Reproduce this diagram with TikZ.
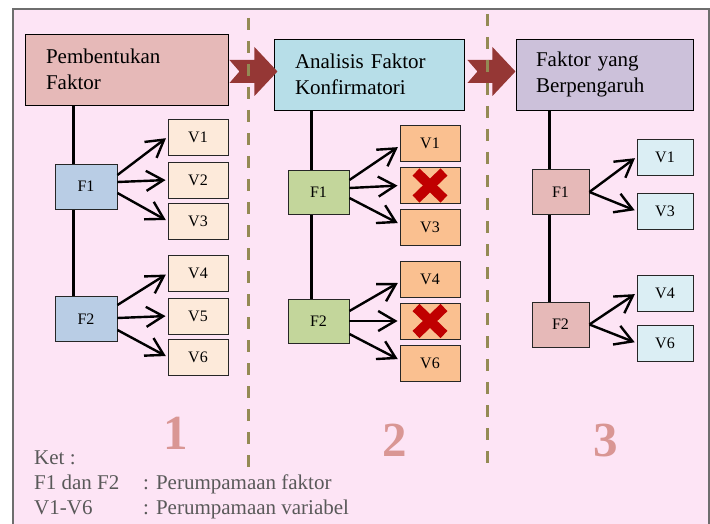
\documentclass[tikz,border=0pt]{standalone}
\usepackage{fontspec}
\setmainfont{Liberation Serif}
\usetikzlibrary{arrows.meta, backgrounds}

\definecolor{pagepink}{HTML}{FDE4F5}
\definecolor{framegray}{HTML}{6E6E6E}
\definecolor{rosebox}{HTML}{E6B9B8}
\definecolor{aquabox}{HTML}{B7DEE8}
\definecolor{lilacbox}{HTML}{CCC1DA}
\definecolor{bluef}{HTML}{B9CDE5}
\definecolor{peachv}{HTML}{FDEADA}
\definecolor{greenf}{HTML}{C3D69B}
\definecolor{orangev}{HTML}{FAC090}
\definecolor{icev}{HTML}{DBEEF4}
\definecolor{arrowred}{HTML}{953735}
\definecolor{olivedash}{HTML}{948A54}
\definecolor{numred}{HTML}{D99694}
\definecolor{crossred}{HTML}{C00000}
\definecolor{leggray}{HTML}{595959}

\tikzset{
  titlebox/.style={
  rectangle,
  draw=black,
  line width=0.9pt,
  fill=#1,
  inner xsep=0pt,
  align=left,
  minimum height=71pt,
  font=\fontsize{21}{25.5}\selectfont
  },
faktor/.style={
  rectangle,
  draw=black!85,
  line width=0.9pt,
  fill=#1,
  inner sep=0pt,
  minimum width=62pt,
  minimum height=45pt,
  font=\fontsize{16}{18}\selectfont
},
varbox/.style={
  rectangle,
  draw=black!85,
  line width=0.9pt,
  fill=#1,
  inner sep=0pt,
  minimum width=60pt,
  minimum height=36pt,
  font=\fontsize{16}{18}\selectfont
},
link/.style={
  line width=2.4pt,
  -{Straight Barb[length=17pt, width=20pt]},
  shorten >=2pt
},
trunk/.style={
  line width=3pt
},
divider/.style={
  olivedash,
  line width=3pt,
  dash pattern=on 12pt off 11pt
},
cross/.style={
  crossred,
  line width=10pt
},
stage/.style={
  numred,
  anchor=base,
  font=\fontsize{49}{50}\selectfont\bfseries
},
legend/.style={
  leggray,
  anchor=base west,
  inner sep=0pt,
  font=\fontsize{21}{25}\selectfont
},
pics/notcharrow/.style={
  code={\fill[arrowred] (0,11.5) -- (25,11.5) -- (25,24.5) -- (48,0) -- (25,-24.5) -- (25,-11.5) -- (0,-11.5) -- (10,0) -- cycle;}
}
        }

\begin{document}
\begin{tikzpicture}[x=1pt, y=-1pt]
\useasboundingbox (0,0) rectangle (710,524);

% Title boxes
\node (title1) [titlebox=rosebox, text width=161pt, minimum width=203pt] at (126.5,69.5) {Pembentukan\\Faktor};
\node (title2) [titlebox=aquabox, text width=148pt, minimum width=190pt] at (369,74.5) {Analisis Faktor\\Konfirmatori};
\node (title3) [titlebox=lilacbox, text width=137pt, minimum width=177pt] at (604.5,74.5) {Faktor yang\\Berpengaruh};

% Block arrows
\pic at ([shift={(1,2)}]title1.east) {notcharrow};
\pic at ([shift={(3,-3)}]title2.east) {notcharrow};

% Dividers
\draw [divider] (248,18) -- (248,473);
\draw [divider] (487,14) -- (487,469);

% Stage 1
\node (fa1) [faktor=bluef] at (86,186.5) {F1};
\node (fa2) [faktor=bluef] at (86,319) {F2};
\node (va1) [varbox=peachv] at (198,137) {V1};
\node (va2) [varbox=peachv] at (198,180) {V2};
\node (va3) [varbox=peachv] at (198,221) {V3};
\node (va4) [varbox=peachv] at (198,273.5) {V4};
\node (va5) [varbox=peachv] at (198,316) {V5};
\node (va6) [varbox=peachv] at (198,357) {V6};

% Stage 2
\node (fb1) [faktor=greenf, minimum width=61pt, minimum height=44pt] at (318.5,192) {F1};
\node (fb2) [faktor=greenf, minimum width=61pt, minimum height=44pt] at (318.5,321) {F2};
\node (vb1) [varbox=orangev] at (430,143) {V1};
\node (xb1) [varbox=orangev] at (430,185.5) {};
\node (vb3) [varbox=orangev] at (430,227) {V3};
\node (vb4) [varbox=orangev] at (430,279) {V4};
\node (xb2) [varbox=orangev] at (430,321) {};
\node (vb6) [varbox=orangev] at (430,363) {V6};

% Stage 3
\node (fc1) [faktor=rosebox, minimum width=57pt] at (560.5,192) {F1};
\node (fc2) [faktor=rosebox, minimum width=57pt] at (560.5,324.5) {F2};
\node (vc1) [varbox=icev, minimum width=56pt] at (665,157) {V1};
\node (vc3) [varbox=icev, minimum width=56pt] at (665,211) {V3};
\node (vc4) [varbox=icev, minimum width=56pt] at (665,293) {V4};
\node (vc6) [varbox=icev, minimum width=56pt] at (665,343) {V6};

% Arrows
\draw [link] ([yshift=11.5pt]fa1.east) -- (va1.west);
\draw [link] ([yshift=4.5pt]fa1.east) -- (va2.west);
\draw [link] ([yshift=-6.5pt]fa1.east) -- (va3.west);
\draw [link] ([yshift=14pt]fa2.east) -- (va4.west);
\draw [link] ([yshift=1pt]fa2.east) -- (va5.west);
\draw [link] ([yshift=-11pt]fa2.east) -- (va6.west);

\draw [link] ([yshift=12pt]fb1.east) -- ([yshift=-3pt]vb1.west);
\draw [link] ([yshift=4pt]fb1.east) -- (xb1.west);
\draw [link] ([yshift=-6pt]fb1.east) -- ([yshift=3pt]vb3.west);
\draw [link] ([yshift=10pt]fb2.east) -- ([yshift=-3pt]vb4.west);
\draw [link] (fb2.east) -- (xb2.west);
\draw [link] ([yshift=-13pt]fb2.east) -- ([yshift=3pt]vb6.west);

\draw [link] (fc1.east) -- (vc1.west);
\draw [link] (fc1.east) -- (vc3.west);
\draw [link] (fc2.east) -- (vc4.west);
\draw [link] (fc2.east) -- (vc6.west);

% Crosses
\draw [cross] ([shift={(-14,-13.5)}]xb1.center) -- ([shift={(14,13.5)}]xb1.center);
\draw [cross] ([shift={(-14,13.5)}]xb1.center) -- ([shift={(14,-13.5)}]xb1.center);
\draw [cross] ([shift={(-14,-13.5)}]xb2.center) -- ([shift={(14,13.5)}]xb2.center);
\draw [cross] ([shift={(-14,13.5)}]xb2.center) -- ([shift={(14,-13.5)}]xb2.center);

% Stage numbers
\node (num1) [stage] at (175.5,449.5) {1};
\node (num2) [stage] at (395,456) {2};
\node (num3) [stage] at (605.5,456) {3};

% Legend
\node (ket) [legend] at (34,464) {Ket :};
\node (keyf) [legend] at (34,489) {F1 dan F2};
\node (descf) [legend] at (143,489) {: Perumpamaan faktor};
\node (keyv) [legend] at (34,514) {V1-V6};
\node (descv) [legend] at (143,514) {: Perumpamaan variabel};

% Frame and trunk lines
\begin{scope}[on background layer]
\draw [framegray, fill=pagepink, line width=1.4pt] (13,9) rectangle (709,530);
\coordinate (k1) at (73,0);
\coordinate (k2) at (311,0);
\coordinate (k3) at (549,0);
\draw [trunk] (title1.south -| k1) -- (fa2.north -| k1);
\draw [trunk] (title2.south -| k2) -- (fb2.north -| k2);
\draw [trunk] (title3.south -| k3) -- (fc2.north -| k3);
\end{scope}

\end{tikzpicture}
\end{document}
